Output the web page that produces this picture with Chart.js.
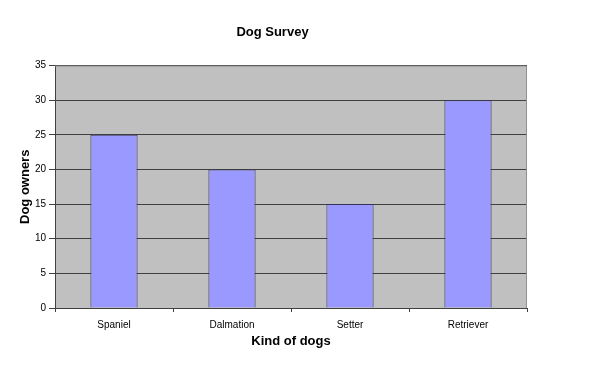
<!DOCTYPE html>
<html>
<head>
<meta charset="utf-8">
<script src="https://cdn.jsdelivr.net/npm/chart.js@4"></script>
<style>
  html, body { margin: 0; padding: 0; background: #fff; }
  #wrap { width: 603px; height: 382px; }
</style>
</head>
<body>
<div id="wrap"><canvas id="mycanvas"></canvas></div>
<script>
var dogs = ["Spaniel", "Dalmation", "Setter", "Retriever"];
var owners = [25, 20, 15, 30];

// grey plot background like the old spreadsheet chart
var plotBg = {
	id: 'plotBg',
	beforeDraw: function(chart) {
		var a = chart.chartArea, c = chart.ctx;
		c.save();
		c.fillStyle = '#c0c0c0';
		c.fillRect(a.left, a.top, a.right - a.left, a.bottom - a.top);
		c.restore();
	},
	afterDatasetsDraw: function(chart) {
		var a = chart.chartArea, c = chart.ctx;
		c.save();
		c.strokeStyle = '#909090';
		c.lineWidth = 1;
		c.beginPath();
		c.moveTo(a.left, a.top + 0.5);
		c.lineTo(a.right - 0.5, a.top + 0.5);
		c.lineTo(a.right - 0.5, a.bottom);
		c.stroke();
		c.restore();
	}
};

var ctx = document.getElementById('mycanvas');
new Chart(ctx, {
	type: 'bar',
	data: {
		labels: dogs,
		datasets: [{
			label: 'Dog owners',
			data: owners,
			backgroundColor: '#9999ff',
			borderColor: '#33335a',
			borderWidth: 1,
			categoryPercentage: 1,
			barPercentage: 0.4
		}]
	},
	options: {
		responsive: true,
		maintainAspectRatio: false,
		animation: false,
		layout: { padding: { left: 18, right: 76, top: 0, bottom: 0 } },
		plugins: {
			legend: { display: false },
			tooltip: { enabled: false },
			title: {
				display: true,
				text: 'Dog Survey',
				color: '#000',
				font: { family: 'Liberation Sans, Arial', size: 13, weight: 'bold' },
				padding: { top: 25, bottom: 25 }
			}
		},
		scales: {
			x: {
				grid: { drawOnChartArea: false, offset: true, color: '#404040', tickLength: 4 },
				border: { color: '#404040' },
				ticks: { color: '#000', padding: 7, font: { family: 'Liberation Sans, Arial', size: 10 } },
				title: {
					display: true,
					text: 'Kind of dogs',
					color: '#000',
					font: { family: 'Liberation Sans, Arial', size: 13, weight: 'bold' },
					padding: { top: 4, bottom: 33 }
				},
				afterFit: function(scale) { scale.height = 74; }
			},
			y: {
				min: 0,
				max: 35,
				ticks: { stepSize: 5, color: '#000', padding: 3, font: { family: 'Liberation Sans, Arial', size: 10 } },
				grid: { color: '#404040', tickLength: 6 },
				border: { color: '#404040' },
				title: {
					display: true,
					text: 'Dog owners',
					color: '#000',
					font: { family: 'Liberation Sans, Arial', size: 13, weight: 'bold' },
					padding: 0
				},
				afterFit: function(scale) { scale.width = 37; }
			}
		}
	},
	plugins: [plotBg]
});
</script>
</body>
</html>
